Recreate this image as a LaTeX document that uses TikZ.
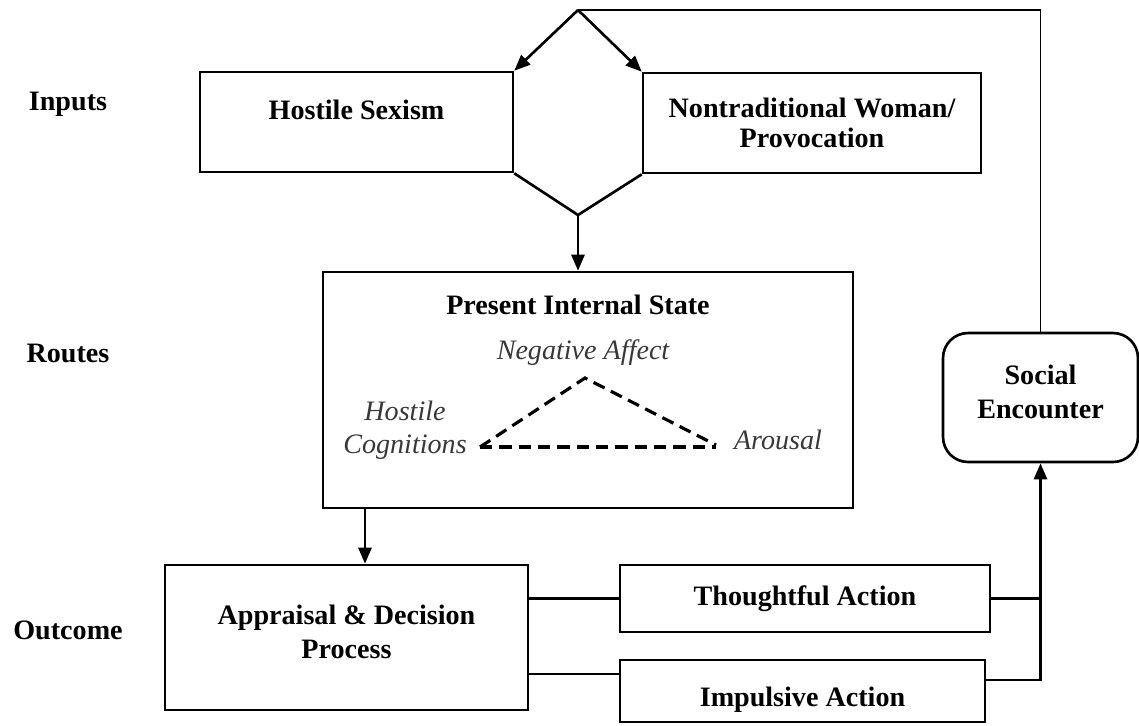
\documentclass[tikz,border=0pt]{standalone}
\usepackage{fontspec}
\setmainfont{Liberation Serif}
\usetikzlibrary{arrows.meta,positioning,calc}

\begin{document}
\begin{tikzpicture}[x=0.02cm,y=-0.02cm,
  font=\fontsize{16}{19}\selectfont\bfseries,>={Triangle[length=3.2mm,width=2.6mm]},
  box/.style={draw=black,line width=1.5pt,align=center,inner sep=0pt},
  rowlab/.style={font=\fontsize{16}{19}\selectfont\bfseries},
  state/.style={font=\fontsize{16}{19}\selectfont\itshape,text=black!78,align=center},
  wire/.style={draw=black,line width=1.5pt},
  thin/.style={draw=black,line width=1.1pt},
  tri/.style={draw=black,line width=1.8pt,dash pattern=on 7pt off 4pt}]
\useasboundingbox (0,0) rectangle (1139,725);

% ---- row labels ----
\node[rowlab] (linputs) at (68,104) {Inputs};
\node[rowlab] (lroutes) at (68,353) {Routes};
\node[rowlab] (loutcome) at (68,630) {Outcome};

% ---- inputs ----
\node[box,minimum width=6.26cm,minimum height=2cm,text height=0.45cm,text depth=0.57cm] (hs) at (356.5,122)
  {Hostile Sexism};
\node[box,minimum width=6.76cm,minimum height=2cm,font=\fontsize{16}{16.8}\selectfont\bfseries] (nw) at (812,123)
  {Nontraditional Woman/\\Provocation};
\coordinate (top) at (578,10);
\coordinate (bot) at (578,215);

% ---- routes ----
\node[box,minimum width=10.6cm,minimum height=4.72cm] (pis) at (588,390) {};
\node[anchor=north] (pistitle) at ([yshift=-0.36cm]pis.north -| top) {Present Internal State};
\node[state] (negaff) at (583,353) {Negative Affect};
\node[state] (hoscog) at (405,430) {Hostile\\Cognitions};
\node[state] (arous) at (778,440) {Arousal};
\coordinate (tl) at (480,447);
\coordinate (tt) at (585,378);
\coordinate (tr) at (716,445);
\draw[tri] (tl) -- (tt) -- (tr);
\draw[tri] (tl) -- (tl -| tr);

% ---- outcome ----
\node[box,minimum width=7.26cm,minimum height=2.9cm] (app) at (346.5,637.5)
  {Appraisal \& Decision\\Process\\[-0.44cm]};
\node[box,minimum width=7.4cm,minimum height=1.34cm] (tho) at (805,598.5) {Thoughtful Action};
\node[box,minimum width=7.3cm,minimum height=1.24cm,text height=0.8cm,text depth=0.18cm] (imp) at (802.5,691)
  {Impulsive Action};
\node[box,rounded corners=0.5cm,minimum width=3.9cm,minimum height=2.58cm] (soc) at (1040.5,397.5)
  {Social\\Encounter\\[-0.44cm]};

% ---- connectors ----
\draw[wire,->] (top) -- (hs.north east);
\draw[wire,->] (top) -- (nw.north west);
\draw[wire] (hs.south east) -- (bot) -- (nw.south west);
\draw[wire,->] (bot) -- (bot |- pis.north);
\draw[wire,->] ([xshift=0.37cm]app.north |- pis.south) -- ([xshift=0.37cm]app.north);

\coordinate (impin) at ([yshift=0.34cm]imp.west);
\coordinate (impout) at ([yshift=0.22cm]imp.east);
\draw[wire] (tho.west -| app.east) -- (tho.west);
\draw[wire] (impin -| app.east) -- (impin);
\draw[wire] (tho.east) -- (tho.east -| soc.south);
\draw[wire,->] (impout) -| (soc.south);

% ---- feedback loop ----
\draw[thin] (soc.north) |- (top);
\end{tikzpicture}
\end{document}
